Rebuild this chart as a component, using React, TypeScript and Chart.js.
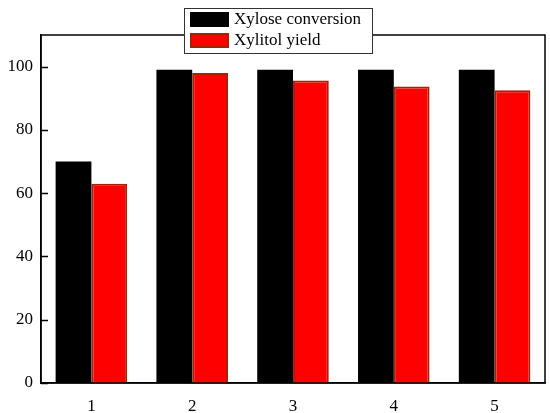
import React, { useEffect, useRef } from "react";
import { Chart, registerables } from "chart.js";
Chart.register(...registerables);

const categories = ["1", "2", "3", "4", "5"];
const xyloseConversion = [70, 99, 99, 99, 99];
const xylitolYield = [63, 98, 95.6, 93.7, 92.5];
const seriesLabels = ["Xylose conversion", "Xylitol yield"];
const yTicks = [0, 20, 40, 60, 80, 100];

const FONT = "'Liberation Serif', 'Times New Roman', serif";

const framePlugin = {
  id: "frame",
  afterDraw(chart: any) {
    const { ctx, chartArea } = chart;
    ctx.save();
    ctx.strokeStyle = "#000";
    ctx.lineWidth = 1.5;
    ctx.strokeRect(chartArea.left, chartArea.top, chartArea.right - chartArea.left, chartArea.bottom - chartArea.top);
    // inward y ticks
    const yScale = chart.scales.y;
    ctx.beginPath();
    yScale.ticks.forEach((t: any) => {
      const py = Math.round(yScale.getPixelForValue(t.value)) + 0.5;
      ctx.moveTo(chartArea.left, py);
      ctx.lineTo(chartArea.left + 7, py);
    });
    ctx.lineWidth = 1.5;
    ctx.stroke();
    // legend box
    const bx = 184, by = 8, bw = 188, bh = 45;
    ctx.fillStyle = "#fff";
    ctx.fillRect(bx, by, bw, bh);
    ctx.lineWidth = 1;
    ctx.strokeStyle = "#333";
    ctx.strokeRect(bx + 0.5, by + 0.5, bw, bh);
    ctx.font = `17px ${FONT}`;
    ctx.textBaseline = "middle";
    chart.data.datasets.forEach((ds: any, i: number) => {
      const y = by + 4 + i * 21;
      ctx.fillStyle = ds.backgroundColor;
      ctx.fillRect(bx + 6, y, 39, 15);
      if (ds.borderWidth) {
        ctx.strokeStyle = ds.borderColor;
        ctx.lineWidth = 2;
        ctx.strokeRect(bx + 7, y + 1, 37, 13);
      }
      ctx.fillStyle = "#000";
      ctx.fillText(ds.label, bx + 50, y + 8);
    });
    ctx.restore();
  },
};

export default function App() {
  const ref = useRef<HTMLCanvasElement>(null);
  useEffect(() => {
    const chart = new Chart(ref.current!, {
      type: "bar",
      data: {
        labels: categories,
        datasets: [
          {
            label: seriesLabels[0],
            data: xyloseConversion,
            backgroundColor: "#000000",
            borderWidth: 0,
            categoryPercentage: 0.71,
            barPercentage: 1,
          },
          {
            label: seriesLabels[1],
            data: xylitolYield,
            backgroundColor: "#ff0000",
            borderColor: "#a8200a",
            borderWidth: 2,
            categoryPercentage: 0.71,
            barPercentage: 1,
          },
        ],
      },
      options: {
        animation: false,
        responsive: false,
        layout: { padding: { top: 35, right: 5, left: 0, bottom: 0 } },
        plugins: { legend: { display: false }, tooltip: { enabled: false } },
        scales: {
          x: {
            grid: { display: false },
            border: { display: true, color: "#000", width: 1.5 },
            ticks: { color: "#000", font: { family: FONT, size: 17 }, padding: 5 },
            afterFit(axis: any) {
              axis.height = 30;
            },
          },
          y: {
            min: 0,
            max: 110,
            grid: { display: false, drawTicks: false },
            border: { display: true, color: "#000", width: 1.5 },
            ticks: { color: "#000", font: { family: FONT, size: 17 }, padding: 8 },
            afterBuildTicks(axis: any) {
              axis.ticks = yTicks.map((v) => ({ value: v }));
            },
            afterFit(axis: any) {
              axis.width = 41;
            },
          },
        },
      },
      plugins: [framePlugin],
    });
    return () => chart.destroy();
  }, []);
  return (
    <div style={{ position: "fixed", left: 0, top: 0, width: 550, height: 413, background: "#fff" }}>
      <canvas ref={ref} width={550} height={413} />
    </div>
  );
}
